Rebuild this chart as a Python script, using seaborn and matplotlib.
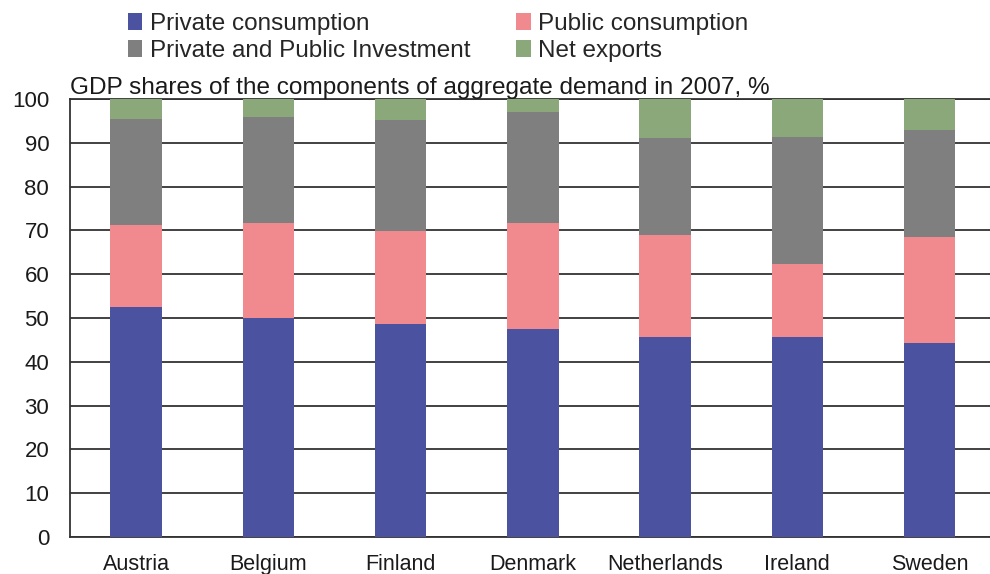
import numpy as np
import pandas as pd
import matplotlib
matplotlib.use("Agg")
import matplotlib.pyplot as plt
import seaborn as sns
from matplotlib.patches import Patch

countries = ["Austria", "Belgium", "Finland", "Denmark", "Netherlands", "Ireland", "Sweden"]
private_cons = [52.4, 50.1, 48.7, 47.5, 45.6, 45.6, 44.3]
public_cons = [18.8, 21.5, 21.1, 24.3, 23.3, 16.8, 24.2]
investment = [24.2, 24.4, 25.3, 25.2, 22.1, 29.0, 24.4]
net_exports = [4.6, 4.0, 4.9, 3.0, 9.0, 8.6, 7.1]

labels = ["Private consumption", "Public consumption",
          "Private and Public Investment", "Net exports"]
colors = ["#4b53a0", "#f08a8e", "#7f7f7f", "#8aa87a"]

sns.set_style("white")
plt.rcParams['font.family'] = ['Liberation Sans', 'DejaVu Sans']

df = pd.DataFrame({"country": countries,
                   labels[0]: private_cons,
                   labels[1]: public_cons,
                   labels[2]: investment,
                   labels[3]: net_exports})
# cumulative tops for stacking
cum = df[labels].cumsum(axis=1)

fig = plt.figure(figsize=(9.9, 5.74), dpi=100)
ax = fig.add_axes([0.0707, 0.0645, 0.935, 0.763])

# draw from the top layer down so lower segments cover the upper ones
for lab, col in zip(labels[::-1], colors[::-1]):
    sns.barplot(x=df["country"], y=cum[lab], color=col, width=0.39,
                saturation=1, linewidth=0, ax=ax, zorder=3)

ax.set_ylim(0, 100)
ax.set_xlim(-0.5, 6.5)
ax.set_yticks(np.arange(0, 101, 10))
ax.yaxis.grid(True, color="#333333", linewidth=1.3, zorder=0)
ax.set_axisbelow(True)
ax.tick_params(axis="both", length=0, colors="#1a1a1a")
ax.tick_params(axis="y", labelsize=16, pad=15)
ax.tick_params(axis="x", labelsize=15.5, pad=12)
ax.set_xlabel("")
ax.set_ylabel("")
for s in ["left", "bottom", "top"]:
    ax.spines[s].set_color("#333333")
    ax.spines[s].set_linewidth(1.3)
ax.spines["right"].set_visible(False)

fig.text(0.0707, 0.836, "GDP shares of the components of aggregate demand in 2007, %",
         fontsize=17.6, color="#1a1a1a", ha="left", va="baseline")

order = [0, 2, 1, 3]
handles = [Patch(facecolor=colors[i], edgecolor="none") for i in order]
fig.legend(handles, [labels[i] for i in order], ncol=2, frameon=False,
           loc="upper left", bbox_to_anchor=(0.107, 1.016), fontsize=17.5,
           handlelength=0.6, handleheight=0.7, handletextpad=0.3,
           columnspacing=1.9, labelspacing=0.2)

fig.savefig("out.png", dpi=100)
